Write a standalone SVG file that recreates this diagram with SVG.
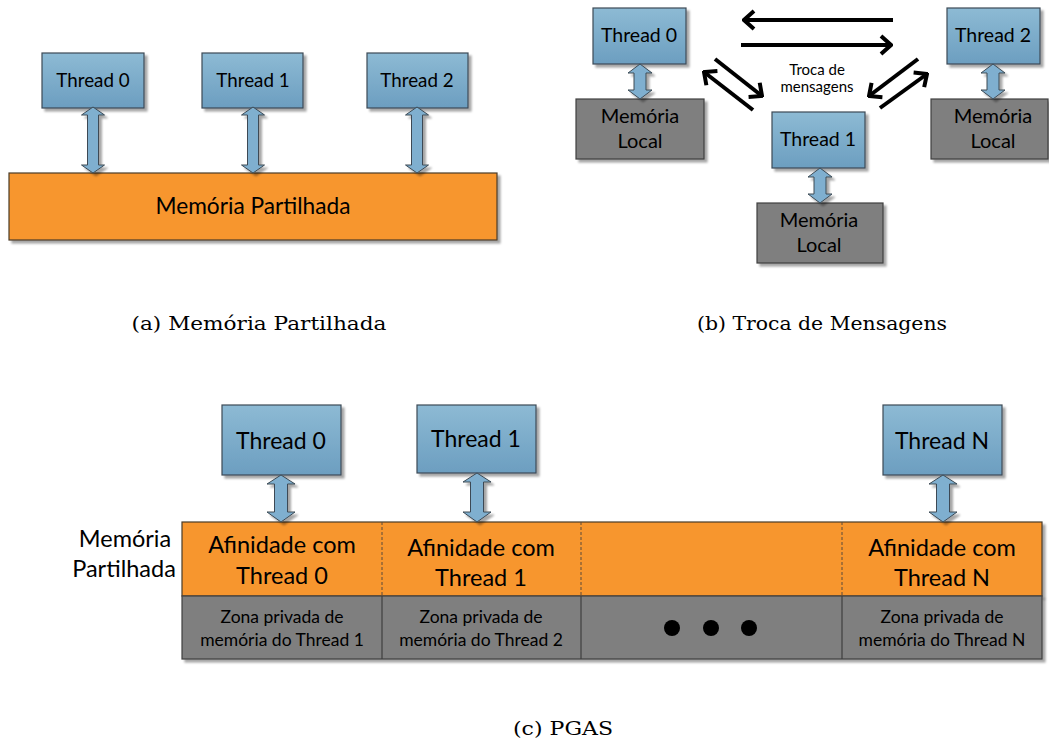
<svg xmlns="http://www.w3.org/2000/svg" width="1049" height="744" viewBox="0 0 1049 744">
<defs>
<linearGradient id="tg" x1="0" y1="0" x2="0" y2="1">
<stop offset="0" stop-color="#8DBAD4"/>
<stop offset="1" stop-color="#6C9EC0"/>
</linearGradient>
<filter id="sh" x="-10%" y="-10%" width="130%" height="130%">
<feGaussianBlur in="SourceAlpha" stdDeviation="1.2"/>
<feOffset dx="3" dy="3" result="o"/>
<feComponentTransfer><feFuncA type="linear" slope="0.35"/></feComponentTransfer>
<feMerge><feMergeNode/><feMergeNode in="SourceGraphic"/></feMerge>
</filter>
<marker id="chev" viewBox="-14 -12 16 24" markerWidth="16" markerHeight="24" refX="0" refY="0" orient="auto" markerUnits="userSpaceOnUse">
<path d="M -10,-9 L 0,0 L -10,9" fill="none" stroke="#000" stroke-width="4"/>
</marker>
</defs>
<style>
.thr{fill:url(#tg);stroke:#3c4a55;stroke-width:1.2;filter:url(#sh)}
.mem{fill:#7F7F7F;stroke:#3f3f3f;stroke-width:1.2;filter:url(#sh)}
.org{fill:#F7962F;stroke:#4a3a2a;stroke-width:1.2}
.dar{fill:#7FAFCF;stroke:#3c4a55;stroke-width:1;filter:url(#sh)}
.msg{fill:none;stroke:#000;stroke-width:4;marker-end:url(#chev)}
text{font-family:Lato,"Open Sans","Liberation Sans",sans-serif;fill:#000;text-anchor:middle}
.cap{font-family:"DejaVu Serif","Liberation Serif",serif;font-size:18.5px}
.div{stroke:#5a4a3a;stroke-width:1;stroke-dasharray:3,2}
.zt{font-size:17.5px}
.af{font-size:23.5px}
</style>

<!-- Panel (a) -->
<g id="a-mem">
<rect class="org" x="9" y="173" width="488" height="67" filter="url(#sh)"/>
<text x="253" y="214" font-size="22.7">Memória Partilhada</text>
</g>
<g id="a-t0"><rect class="thr" x="42" y="53" width="102" height="55"/><text x="93" y="87" font-size="18.8">Thread 0</text></g>
<g id="a-t1"><rect class="thr" x="202" y="53" width="101" height="55"/><text x="253" y="87" font-size="18.8">Thread 1</text></g>
<g id="a-t2"><rect class="thr" x="367" y="53" width="101" height="55"/><text x="417" y="87" font-size="18.8">Thread 2</text></g>
<g id="a-conn">
<path class="dar" d="M93,107 L104.5,115 L98.5,115 L98.5,165 L104.5,165 L93,173 L81.5,165 L87.5,165 L87.5,115 L81.5,115 Z"/>
<path class="dar" d="M253,107 L264.5,115 L258.5,115 L258.5,165 L264.5,165 L253,173 L241.5,165 L247.5,165 L247.5,115 L241.5,115 Z"/>
<path class="dar" d="M417,107 L428.5,115 L422.5,115 L422.5,165 L428.5,165 L417,173 L405.5,165 L411.5,165 L411.5,115 L405.5,115 Z"/>
</g>
<text class="cap" x="259" y="330" textLength="255" lengthAdjust="spacingAndGlyphs">(a) Memória Partilhada</text>

<!-- Panel (b) -->
<g id="b-t0"><rect class="thr" x="593" y="8" width="93" height="56"/><text x="639" y="42" font-size="19.5">Thread 0</text></g>
<g id="b-m0"><rect class="mem" x="576" y="99" width="128" height="60"/><text x="640" y="123" font-size="20">Memória</text><text x="640" y="148" font-size="20">Local</text></g>
<g id="b-t1"><rect class="thr" x="772" y="112" width="93" height="56"/><text x="818" y="146" font-size="19.5">Thread 1</text></g>
<g id="b-m1"><rect class="mem" x="757" y="203" width="126" height="60"/><text x="819" y="227" font-size="20">Memória</text><text x="819" y="252" font-size="20">Local</text></g>
<g id="b-t2"><rect class="thr" x="947" y="8" width="93" height="56"/><text x="993" y="42" font-size="19.5">Thread 2</text></g>
<g id="b-m2"><rect class="mem" x="931" y="99" width="117" height="60"/><text x="993" y="123" font-size="20">Memória</text><text x="993" y="148" font-size="20">Local</text></g>
<g id="b-label"><text x="817" y="75" font-size="15">Troca de</text><text x="817" y="92" font-size="15">mensagens</text></g>
<g id="b-conn">
<path class="dar" d="M640,64 L652,73 L646,73 L646,90 L652,90 L640,99 L628,90 L634,90 L634,73 L628,73 Z"/>
<path class="dar" d="M820,168 L832,177 L826,177 L826,194 L832,194 L820,203 L808,194 L814,194 L814,177 L808,177 Z"/>
<path class="dar" d="M993,64 L1005,73 L999,73 L999,90 L1005,90 L993,99 L981,90 L987,90 L987,73 L981,73 Z"/>
<path class="msg" d="M893,20 L744,20"/>
<path class="msg" d="M741,45 L891,45"/>
<path class="msg" d="M715,59 L762,96"/>
<path class="msg" d="M753,110 L704,72"/>
<path class="msg" d="M918,59 L869,96"/>
<path class="msg" d="M880,108 L927,74"/>
</g>
<text class="cap" x="822" y="330" textLength="250" lengthAdjust="spacingAndGlyphs">(b) Troca de Mensagens</text>

<!-- Panel (c) -->
<g id="c-shared">
<rect class="org" x="182" y="522" width="860" height="74" filter="url(#sh)"/>
<rect class="mem" x="182" y="596" width="860" height="63"/>
<line class="div" x1="382" y1="522" x2="382" y2="596"/>
<line class="div" x1="581" y1="522" x2="581" y2="596"/>
<line class="div" x1="842" y1="522" x2="842" y2="596"/>
<line x1="382" y1="596" x2="382" y2="659" stroke="#3f3f3f" stroke-width="1.2"/>
<line x1="581" y1="596" x2="581" y2="659" stroke="#3f3f3f" stroke-width="1.2"/>
<line x1="842" y1="596" x2="842" y2="659" stroke="#3f3f3f" stroke-width="1.2"/>
<text x="125" y="547" font-size="23.5">Memória</text>
<text x="124" y="577" font-size="23.5">Partilhada</text>
<text class="af" x="282" y="553">Afinidade com</text>
<text class="af" x="282" y="584">Thread 0</text>
<text class="af" x="481" y="556">Afinidade com</text>
<text class="af" x="481" y="586">Thread 1</text>
<text class="af" x="942" y="556">Afinidade com</text>
<text class="af" x="942" y="586">Thread N</text>
<text class="zt" x="282" y="623">Zona privada de</text>
<text class="zt" x="282" y="646">memória do Thread 1</text>
<text class="zt" x="481" y="623">Zona privada de</text>
<text class="zt" x="481" y="646">memória do Thread 2</text>
<text class="zt" x="942" y="623">Zona privada de</text>
<text class="zt" x="942" y="646">memória do Thread N</text>
<circle cx="672" cy="628" r="8"/>
<circle cx="711" cy="628" r="8"/>
<circle cx="749" cy="628" r="8"/>
</g>
<g id="c-t0"><rect class="thr" x="222" y="405" width="119" height="70"/><text x="281" y="449" font-size="23">Thread 0</text></g>
<g id="c-t1"><rect class="thr" x="417" y="405" width="119" height="68"/><text x="476" y="447" font-size="23">Thread 1</text></g>
<g id="c-tn"><rect class="thr" x="883" y="405" width="119" height="70"/><text x="942" y="449" font-size="23">Thread N</text></g>
<g id="c-conn">
<path class="dar" d="M281,475 L295,484 L287.5,484 L287.5,512 L295,512 L281,522 L267,512 L274.5,512 L274.5,484 L267,484 Z"/>
<path class="dar" d="M477,473 L491,482 L483.5,482 L483.5,512 L491,512 L477,522 L463,512 L470.5,512 L470.5,482 L463,482 Z"/>
<path class="dar" d="M943,475 L957,484 L949.5,484 L949.5,512 L957,512 L943,522 L929,512 L936.5,512 L936.5,484 L929,484 Z"/>
</g>
<text class="cap" x="563" y="735" textLength="100" lengthAdjust="spacingAndGlyphs">(c) PGAS</text>
</svg>
